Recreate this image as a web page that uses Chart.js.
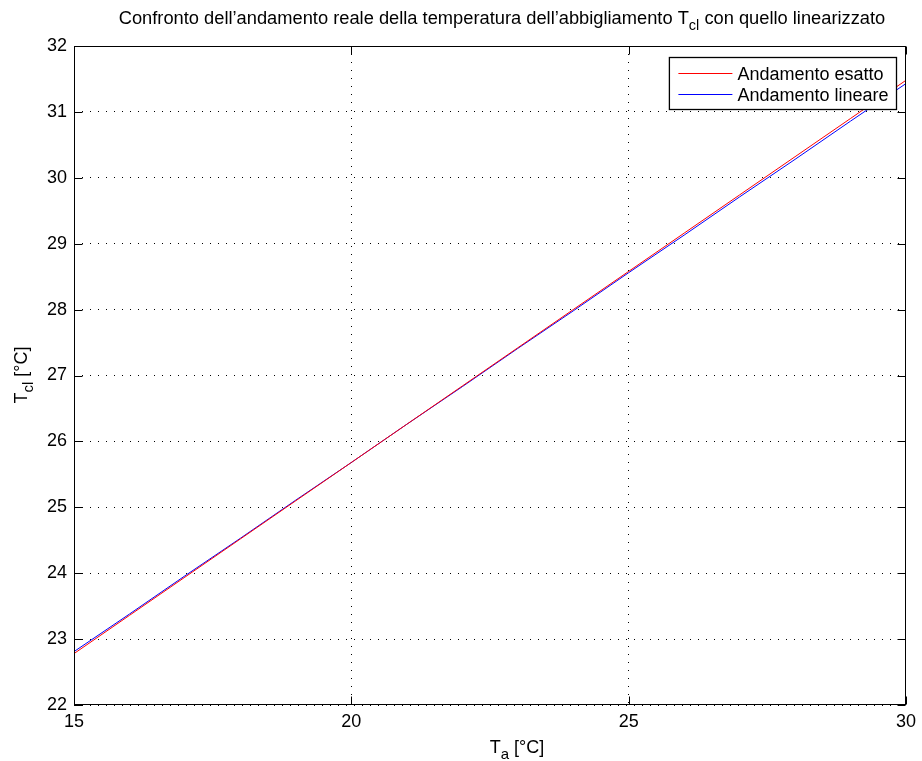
<!DOCTYPE html>
<html><head><meta charset="utf-8">
<script src="https://cdn.jsdelivr.net/npm/chart.js@4/dist/chart.umd.min.js"></script>
<style>html,body{margin:0;padding:0;background:#fff}#wrap{width:922px;height:761px;position:relative}</style>
</head><body><div id="wrap"><canvas id="c" width="922" height="761"></canvas></div>
<script>
// ---- data ----
const xValues      = [15, 16, 17, 18, 19, 20, 21, 22, 23, 24, 25, 26, 27, 28, 29, 30];
const exactValues  = [22.78, 23.36, 23.94, 24.52, 25.10, 25.68, 26.26, 26.84, 27.42, 28.00, 28.58, 29.16, 29.74, 30.32, 30.90, 31.48];
const linearValues = [22.81, 23.38, 23.96, 24.53, 25.11, 25.68, 26.26, 26.83, 27.41, 27.98, 28.56, 29.13, 29.71, 30.28, 30.86, 31.43];
const xTickValues  = [15, 20, 25, 30];
const yTickValues  = [22, 23, 24, 25, 26, 27, 28, 29, 30, 31, 32];
const seriesLabels = ["Andamento esatto", "Andamento lineare"];
const seriesColors = ["#ff0000", "#0000ff"];
const titleParts   = [["Confronto dell\u2019andamento reale della temperatura dell\u2019abbigliamento T", false], ["cl", true], [" con quello linearizzato", false]];
const xLabelParts  = [["T", false], ["a", true], [" [\u00b0C]", false]];
const yLabelParts  = [["T", false], ["cl", true], [" [\u00b0C]", false]];

const FONT = '"Liberation Sans", Arial, Helvetica, sans-serif';

function toPoints(xs, ys) { return xs.map((x, i) => ({ x: x, y: ys[i] })); }

function drawParts(ctx, parts, x, y, size, subSize, subDy) {
  let cx = x;
  for (const [t, sub] of parts) {
    ctx.font = (sub ? subSize : size) + 'px ' + FONT;
    ctx.fillText(t, cx, sub ? y + subDy : y);
    cx += ctx.measureText(t).width;
  }
  return cx - x;
}
function partsWidth(ctx, parts, size, subSize) {
  let w = 0;
  for (const [t, sub] of parts) { ctx.font = (sub ? subSize : size) + 'px ' + FONT; w += ctx.measureText(t).width; }
  return w;
}

const matlabPlugin = {
  id: 'matlab',
  afterDraw(chart) {
    const ctx = chart.ctx, a = chart.chartArea;
    const xs = chart.scales.x, ys = chart.scales.y;
    ctx.save();
    ctx.fillStyle = '#000'; ctx.strokeStyle = '#000'; ctx.lineWidth = 1;
    // box
    const L = Math.round(a.left) + 0.5, R = Math.round(a.right) - 0.5, T = Math.round(a.top) + 0.5, B = Math.round(a.bottom) - 0.5;
    ctx.strokeRect(L, T, R - L, B - T);
    // inward ticks
    ctx.beginPath();
    const tl = 8;
    xTickValues.forEach(v => { const p = Math.round(xs.getPixelForValue(v)) + 0.5; ctx.moveTo(p, B); ctx.lineTo(p, B - tl); ctx.moveTo(p, T); ctx.lineTo(p, T + tl); });
    yTickValues.forEach(v => { const p = Math.round(ys.getPixelForValue(v)) + 0.5; ctx.moveTo(L, p); ctx.lineTo(L + tl, p); ctx.moveTo(R, p); ctx.lineTo(R - tl, p); });
    ctx.stroke();
    // title
    ctx.textBaseline = 'alphabetic'; ctx.textAlign = 'left';
    const tSize = 18.3, tSub = 14.5;
    const tw = partsWidth(ctx, titleParts, tSize, tSub);
    drawParts(ctx, titleParts, 502 - tw / 2, 24, tSize, tSub, 6);
    // x label
    const lSize = 18, lSub = 15;
    const xw = partsWidth(ctx, xLabelParts, lSize, lSub);
    drawParts(ctx, xLabelParts, 517 - xw / 2, 753, lSize, lSub, 6);
    // y label
    const yw = partsWidth(ctx, yLabelParts, lSize, lSub);
    ctx.save();
    ctx.translate(27, 375);
    ctx.rotate(-Math.PI / 2);
    drawParts(ctx, yLabelParts, -yw / 2, 0, lSize, lSub, 6);
    ctx.restore();
    // legend
    ctx.font = lSize + 'px ' + FONT;
    const textW = Math.max(...seriesLabels.map(s => ctx.measureText(s).width));
    const bx2 = Math.round(a.right) - 9.5, by1 = Math.round(a.top) + 11.5;
    const bw = 9 + 54 + 5 + textW + 8, bh = 52;
    const bx1 = bx2 - bw;
    ctx.fillStyle = '#fff';
    ctx.fillRect(bx1, by1, bw, bh);
    ctx.strokeStyle = '#000'; ctx.lineWidth = 1.3;
    ctx.strokeRect(bx1, by1, bw, bh);
    seriesLabels.forEach((s, i) => {
      const cy = by1 + 16 + i * 21;
      ctx.strokeStyle = seriesColors[i]; ctx.lineWidth = 1;
      ctx.beginPath(); ctx.moveTo(bx1 + 9, cy); ctx.lineTo(bx1 + 63, cy); ctx.stroke();
      ctx.fillStyle = '#000';
      ctx.fillText(s, bx1 + 68, cy + 6);
    });
    ctx.restore();
  }
};

new Chart(document.getElementById('c'), {
  type: 'line',
  data: {
    datasets: [
      { label: seriesLabels[0], data: toPoints(xValues, exactValues), borderColor: seriesColors[0], borderWidth: 1, pointRadius: 0, fill: false, tension: 0 },
      { label: seriesLabels[1], data: toPoints(xValues, linearValues), borderColor: seriesColors[1], borderWidth: 1, pointRadius: 0, fill: false, tension: 0 }
    ]
  },
  options: {
    responsive: false, animation: false,
    layout: { padding: { top: 46, right: 14, left: 0, bottom: 0 } },
    plugins: { legend: { display: false }, title: { display: false }, tooltip: { enabled: false } },
    scales: {
      x: {
        type: 'linear', min: 15, max: 30,
        afterBuildTicks: s => { s.ticks = xTickValues.map(v => ({ value: v })); },
        afterFit: s => { s.height = 56; },
        ticks: { color: '#000', font: { family: FONT, size: 18 }, padding: 6, maxRotation: 0 },
        grid: { color: '#000', lineWidth: 1, drawTicks: false },
        border: { display: false, dash: [1, 7] }
      },
      y: {
        type: 'linear', min: 22, max: 32,
        afterBuildTicks: s => { s.ticks = yTickValues.map(v => ({ value: v })); },
        afterFit: s => { s.width = 74; },
        ticks: { color: '#000', font: { family: FONT, size: 18 }, padding: 7 },
        grid: { color: '#000', lineWidth: 1, drawTicks: false },
        border: { display: false, dash: [1, 7] }
      }
    }
  },
  plugins: [matlabPlugin]
});
</script></body></html>
